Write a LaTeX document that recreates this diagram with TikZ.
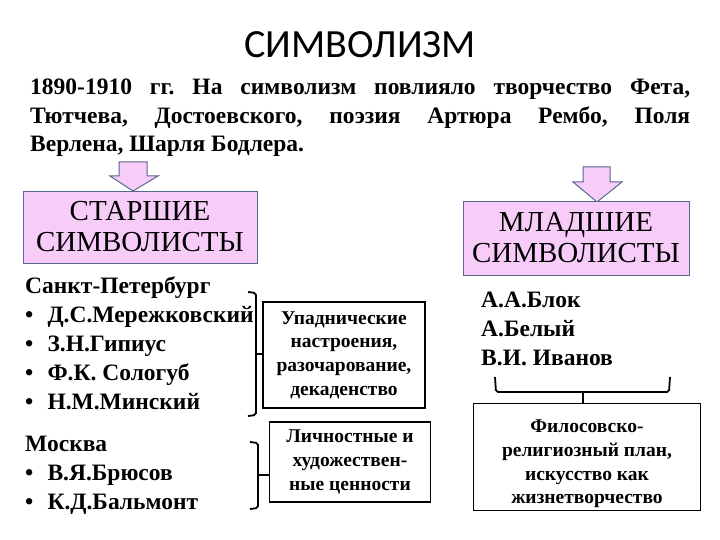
\documentclass[tikz,border=0pt]{standalone}
\usepackage{fontspec}
\setmainfont{Liberation Serif}
\newfontfamily\titlefont{Carlito}
\definecolor{pinkfill}{HTML}{F8CCF8}
\definecolor{pinkline}{HTML}{55688F}
\frenchspacing
\begin{document}
\begin{tikzpicture}[x=1pt,y=-1pt,
  pinkbox/.style={draw=pinkline,line width=0.8pt,fill=pinkfill,align=center,inner sep=0pt,
    font=\fontsize{29}{31}\selectfont},
  infobox/.style={draw=black,line width=1.6pt,align=center,inner sep=0pt,
    font=\bfseries\fontsize{19.5}{23.7}\selectfont},
  arrowshape/.style={draw=pinkline,line width=1pt,fill=pinkfill,line join=miter},
  bracket/.style={line width=1.8pt,rounded corners=2pt},
  namelist/.style={anchor=north west,align=left,inner sep=0pt,font=\bfseries\fontsize{23.5}{29}\selectfont}]
\useasboundingbox (0,0) rectangle (720,540);

\node[font=\titlefont\fontsize{40}{44}\selectfont] (title) at (360,45) {СИМВОЛИЗМ};

\node[anchor=north west,inner sep=0pt,text width=660pt,align=justify,
  font=\bfseries\fontsize{23.5}{28.5}\selectfont] (intro) at (30,79)
  {1890-1910 гг. На символизм повлияло творчество Фета,\linebreak
   Тютчева, Достоевского, поэзия Артюра Рембо, Поля\linebreak
   Верлена, Шарля Бодлера.};

% arrows
\draw[arrowshape] (119,162) -- (147,162) -- (147,176) -- (158,176) -- (133,191)
  -- (110,176) -- (119,176) -- cycle;
\draw[arrowshape] (583,167) -- (610,167) -- (610,182) -- (622,182) -- (597,202)
  -- (573,182) -- (583,182) -- cycle;

\node[pinkbox,minimum width=234pt,minimum height=72pt] (senior) at (140,227)
  {СТАРШИЕ\\СИМВОЛИСТЫ};
\node[pinkbox,minimum width=226pt,minimum height=74pt] (junior) at (576,238)
  {МЛАДШИЕ\\СИМВОЛИСТЫ};

% senior lists
\node[namelist] (spb) at (25,276)
  {Санкт-Петербург\\
   \textbullet\hspace{0.6em}Д.С.Мережковский\\
   \textbullet\hspace{0.6em}З.Н.Гипиус\\
   \textbullet\hspace{0.6em}Ф.К. Сологуб\\
   \textbullet\hspace{0.6em}Н.М.Минский};
\node[namelist] (msk) at (25,436)
  {Москва\\
   \textbullet\hspace{0.6em}В.Я.Брюсов\\
   \textbullet\hspace{0.6em}К.Д.Бальмонт};

% junior list
\node[namelist] (jnames) at (481,292)
  {А.А.Блок\\А.Белый\\В.И. Иванов};

% boxes
\node[infobox,minimum width=162pt,minimum height=106pt] (decad) at (344,355)
  {Упаднические\\настроения,\\разочарование,\\декаденство};
\node[infobox,minimum width=161pt,minimum height=80pt] (values) at (350,462)
  {Личностные и\\художествен-\\ные ценности};
\node[infobox,minimum width=227pt,minimum height=107pt] (philo) at (587,457)
  {\rule{0pt}{27pt}Филосовско-\\религиозный план,\\искусство как\\жизнетворчество};

% brackets
\coordinate (b1) at (256,354);
\draw[bracket] (248,292) -- (256,293) -- (256,415) -- (248,416);
\draw[bracket] (b1) -- (decad.west |- b1);
\coordinate (b2) at (258,475);
\draw[bracket] (250,442) -- (258,443) -- (258,508) -- (250,509);
\draw[bracket] (b2) -- (values.west |- b2);
\coordinate (b3) at (583,392);
\draw[bracket] (495,377) -- (496,392) -- (669,392) -- (670,377);
\draw[bracket] (b3) -- (philo.north -| b3);
\end{tikzpicture}
\end{document}
